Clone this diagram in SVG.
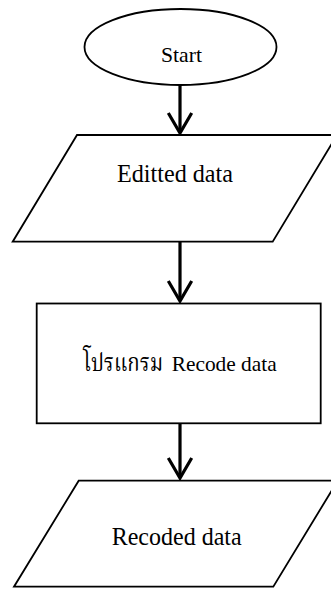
<svg xmlns="http://www.w3.org/2000/svg" width="331" height="590" viewBox="0 0 331 590">
  <style>
    .shape { fill: #ffffff; stroke: #000000; stroke-width: 1.8; }
    .conn { stroke: #000000; stroke-width: 3.2; fill: none; }
    .lbl { font-family: "Liberation Serif", "Noto Serif Thai", "Noto Sans Thai", serif; fill: #000000; text-anchor: middle; }
  </style>
  <defs>
    <marker id="chev" markerUnits="userSpaceOnUse" viewBox="-24 -16 28 32" markerWidth="28" markerHeight="32" refX="0" refY="0" orient="auto" overflow="visible">
      <path d="M -20 -11.7 L 0 0 L -20 11.7" fill="none" stroke="#000000" stroke-width="3.2" stroke-linejoin="miter"/>
    </marker>
  </defs>
  <rect width="331" height="590" fill="#ffffff"/>
  <g id="connectors">
    <line class="conn" x1="180" y1="85" x2="180" y2="133" marker-end="url(#chev)"/>
    <line class="conn" x1="180" y1="242" x2="180" y2="301" marker-end="url(#chev)"/>
    <line class="conn" x1="180" y1="424" x2="180" y2="478" marker-end="url(#chev)"/>
  </g>
  <g id="start">
    <ellipse class="shape" cx="180.5" cy="47" rx="96" ry="38"/>
    <text class="lbl" x="181.5" y="62" font-size="21" textLength="41" lengthAdjust="spacingAndGlyphs">Start</text>
  </g>
  <g id="editted-data">
    <polygon class="shape" points="77,135 337,135 272.7,241.7 12.7,241.7"/>
    <text class="lbl" x="175" y="181.5" font-size="24.5" textLength="116" lengthAdjust="spacingAndGlyphs">Editted data</text>
  </g>
  <g id="recode-program">
    <rect class="shape" x="36.7" y="303.5" width="284" height="119.8"/>
    <text class="lbl" y="371" font-size="24"><tspan x="123.2" textLength="80" lengthAdjust="spacingAndGlyphs">โปรแกรม</tspan><tspan x="224.2" font-size="21.5" textLength="105" lengthAdjust="spacingAndGlyphs">Recode data</tspan></text>
  </g>
  <g id="recoded-data">
    <polygon class="shape" points="78.7,480.7 337.7,480.7 273.3,586.7 14,586.7"/>
    <text class="lbl" x="176.7" y="545" font-size="24.5" textLength="130" lengthAdjust="spacingAndGlyphs">Recoded data</text>
  </g>
</svg>
